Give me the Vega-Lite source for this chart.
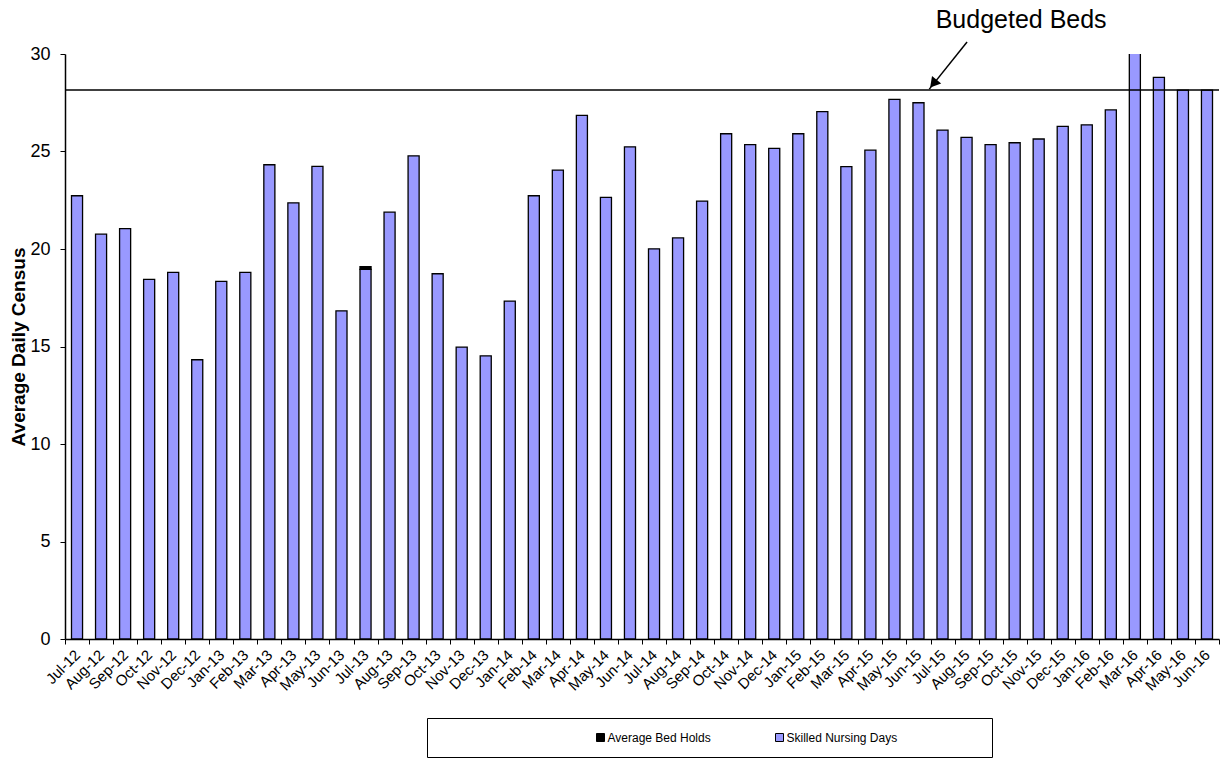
{
  "$schema": "https://vega.github.io/schema/vega-lite/v6.json",
  "autosize": "none",
  "width": 1154,
  "height": 585,
  "padding": {"left": 65, "top": 54, "right": 5, "bottom": 120},
  "background": "white",
  "config": {
    "font": "Liberation Sans",
    "view": {"stroke": null},
    "axis": {"domainColor": "black", "tickColor": "black", "labelColor": "black", "titleColor": "black", "grid": false}
  },
  "datasets": {
    "bars": [
      {"month": "Jul-12", "series": "Skilled Nursing Days", "v": 22.73},
      {"month": "Aug-12", "series": "Skilled Nursing Days", "v": 20.76},
      {"month": "Sep-12", "series": "Skilled Nursing Days", "v": 21.04},
      {"month": "Oct-12", "series": "Skilled Nursing Days", "v": 18.44},
      {"month": "Nov-12", "series": "Skilled Nursing Days", "v": 18.80},
      {"month": "Dec-12", "series": "Skilled Nursing Days", "v": 14.32},
      {"month": "Jan-13", "series": "Skilled Nursing Days", "v": 18.34},
      {"month": "Feb-13", "series": "Skilled Nursing Days", "v": 18.80},
      {"month": "Mar-13", "series": "Skilled Nursing Days", "v": 24.32},
      {"month": "Apr-13", "series": "Skilled Nursing Days", "v": 22.37},
      {"month": "May-13", "series": "Skilled Nursing Days", "v": 24.24},
      {"month": "Jun-13", "series": "Skilled Nursing Days", "v": 16.83},
      {"month": "Jul-13", "series": "Skilled Nursing Days", "v": 18.96},
      {"month": "Aug-13", "series": "Skilled Nursing Days", "v": 21.89},
      {"month": "Sep-13", "series": "Skilled Nursing Days", "v": 24.78},
      {"month": "Oct-13", "series": "Skilled Nursing Days", "v": 18.73},
      {"month": "Nov-13", "series": "Skilled Nursing Days", "v": 14.97},
      {"month": "Dec-13", "series": "Skilled Nursing Days", "v": 14.52},
      {"month": "Jan-14", "series": "Skilled Nursing Days", "v": 17.33},
      {"month": "Feb-14", "series": "Skilled Nursing Days", "v": 22.73},
      {"month": "Mar-14", "series": "Skilled Nursing Days", "v": 24.05},
      {"month": "Apr-14", "series": "Skilled Nursing Days", "v": 26.85},
      {"month": "May-14", "series": "Skilled Nursing Days", "v": 22.65},
      {"month": "Jun-14", "series": "Skilled Nursing Days", "v": 25.24},
      {"month": "Jul-14", "series": "Skilled Nursing Days", "v": 20.01},
      {"month": "Aug-14", "series": "Skilled Nursing Days", "v": 20.57},
      {"month": "Sep-14", "series": "Skilled Nursing Days", "v": 22.46},
      {"month": "Oct-14", "series": "Skilled Nursing Days", "v": 25.91},
      {"month": "Nov-14", "series": "Skilled Nursing Days", "v": 25.35},
      {"month": "Dec-14", "series": "Skilled Nursing Days", "v": 25.16},
      {"month": "Jan-15", "series": "Skilled Nursing Days", "v": 25.91},
      {"month": "Feb-15", "series": "Skilled Nursing Days", "v": 27.04},
      {"month": "Mar-15", "series": "Skilled Nursing Days", "v": 24.22},
      {"month": "Apr-15", "series": "Skilled Nursing Days", "v": 25.07},
      {"month": "May-15", "series": "Skilled Nursing Days", "v": 27.67},
      {"month": "Jun-15", "series": "Skilled Nursing Days", "v": 27.50},
      {"month": "Jul-15", "series": "Skilled Nursing Days", "v": 26.10},
      {"month": "Aug-15", "series": "Skilled Nursing Days", "v": 25.72},
      {"month": "Sep-15", "series": "Skilled Nursing Days", "v": 25.35},
      {"month": "Oct-15", "series": "Skilled Nursing Days", "v": 25.45},
      {"month": "Nov-15", "series": "Skilled Nursing Days", "v": 25.64},
      {"month": "Dec-15", "series": "Skilled Nursing Days", "v": 26.29},
      {"month": "Jan-16", "series": "Skilled Nursing Days", "v": 26.37},
      {"month": "Feb-16", "series": "Skilled Nursing Days", "v": 27.13},
      {"month": "Mar-16", "series": "Skilled Nursing Days", "v": 30.6},
      {"month": "Apr-16", "series": "Skilled Nursing Days", "v": 28.80},
      {"month": "May-16", "series": "Skilled Nursing Days", "v": 28.15},
      {"month": "Jun-16", "series": "Skilled Nursing Days", "v": 28.15},
      {"month": "Jul-13", "series": "Average Bed Holds", "v": 0.13}
    ],
    "budget": [{"v": 28.15}],
    "arrow": [{"px": 37.52, "v": 30.62, "px2": 35.95, "v2": 28.2}],
    "head": [{"px": 36.12, "v": 28.48}],
    "label": [{"px": 39.77, "v": 31.74, "text": "Budgeted Beds"}]
  },
  "layer": [
    {
      "data": {"name": "bars"},
      "mark": {"type": "bar", "width": {"band": 0.46}, "stroke": "black", "strokeWidth": 1.3, "clip": true},
      "encoding": {
        "x": {
          "field": "month", "type": "nominal", "sort": null,
          "scale": {"paddingInner": 0, "paddingOuter": 0},
          "axis": {"title": null, "labelAngle": -45, "labelAlign": "right", "labelBaseline": "middle", "labelFontSize": 15, "labelPadding": 8, "tickBand": "extent", "tickSize": 5, "domainWidth": 1.5, "labelOverlap": false}
        },
        "y": {
          "field": "v", "type": "quantitative", "stack": "zero",
          "scale": {"domain": [0, 30], "nice": false},
          "axis": {"title": "Average Daily Census", "titleFontSize": 19, "titleFontWeight": "bold", "titlePadding": 1, "values": [0, 5, 10, 15, 20, 25, 30], "labelFontSize": 18, "labelPadding": 10, "tickSize": 5, "domainWidth": 1.5}
        },
        "color": {
          "field": "series", "type": "nominal",
          "scale": {"domain": ["Average Bed Holds", "Skilled Nursing Days"], "range": ["#000000", "#9999FF"]},
          "legend": {
            "orient": "none", "legendX": 362, "legendY": 664, "direction": "horizontal",
            "title": ".", "titleColor": "#ffffff", "titleOrient": "left", "titleFontSize": 12, "titlePadding": 150,
            "strokeColor": "black", "fillColor": "white", "padding": 13.5,
            "symbolType": "square", "symbolSize": 64, "symbolStrokeColor": "black", "symbolStrokeWidth": 1,
            "labelFontSize": 12, "labelColor": "black", "labelOffset": 1, "labelLimit": 600, "columnPadding": 62,
            "labelExpr": "datum.label == 'Skilled Nursing Days' ? datum.label + '\u2800\u2800\u2800\u2800\u2800\u2800\u2800\u2800\u2800' : datum.label"
          }
        },
        "order": {"field": "series", "sort": "descending"}
      }
    },
    {
      "data": {"name": "budget"},
      "mark": {"type": "rule", "color": "black", "strokeWidth": 1.5},
      "encoding": {
        "y": {"field": "v", "type": "quantitative", "scale": {"domain": [0, 30], "nice": false}, "axis": {"title": "Average Daily Census", "titleFontSize": 19, "titleFontWeight": "bold", "titlePadding": 1, "values": [0, 5, 10, 15, 20, 25, 30], "labelFontSize": 18, "labelPadding": 10, "tickSize": 5, "domainWidth": 1.5}}
      }
    },
    {
      "data": {"name": "arrow"},
      "mark": {"type": "rule", "color": "black", "strokeWidth": 1.5, "clip": false},
      "encoding": {
        "x": {"field": "px", "type": "quantitative", "scale": {"domain": [0, 48], "nice": false, "zero": false}, "axis": null},
        "x2": {"field": "px2"},
        "y": {"field": "v", "type": "quantitative", "scale": {"domain": [0, 30], "nice": false}, "axis": {"title": "Average Daily Census", "titleFontSize": 19, "titleFontWeight": "bold", "titlePadding": 1, "values": [0, 5, 10, 15, 20, 25, 30], "labelFontSize": 18, "labelPadding": 10, "tickSize": 5, "domainWidth": 1.5}},
        "y2": {"field": "v2"}
      }
    },
    {
      "data": {"name": "head"},
      "mark": {"type": "point", "shape": "triangle-up", "filled": true, "color": "black", "size": 140, "angle": 219, "opacity": 1, "clip": false},
      "encoding": {
        "x": {"field": "px", "type": "quantitative", "scale": {"domain": [0, 48], "nice": false, "zero": false}, "axis": null},
        "y": {"field": "v", "type": "quantitative", "scale": {"domain": [0, 30], "nice": false}, "axis": {"title": "Average Daily Census", "titleFontSize": 19, "titleFontWeight": "bold", "titlePadding": 1, "values": [0, 5, 10, 15, 20, 25, 30], "labelFontSize": 18, "labelPadding": 10, "tickSize": 5, "domainWidth": 1.5}}
      }
    },
    {
      "data": {"name": "label"},
      "mark": {"type": "text", "fontSize": 25, "align": "center", "baseline": "middle", "color": "black", "clip": false},
      "encoding": {
        "x": {"field": "px", "type": "quantitative", "scale": {"domain": [0, 48], "nice": false, "zero": false}, "axis": null},
        "y": {"field": "v", "type": "quantitative", "scale": {"domain": [0, 30], "nice": false}, "axis": {"title": "Average Daily Census", "titleFontSize": 19, "titleFontWeight": "bold", "titlePadding": 1, "values": [0, 5, 10, 15, 20, 25, 30], "labelFontSize": 18, "labelPadding": 10, "tickSize": 5, "domainWidth": 1.5}},
        "text": {"field": "text"}
      }
    }
  ],
  "resolve": {"scale": {"x": "independent"}, "axis": {"x": "independent"}}
}
